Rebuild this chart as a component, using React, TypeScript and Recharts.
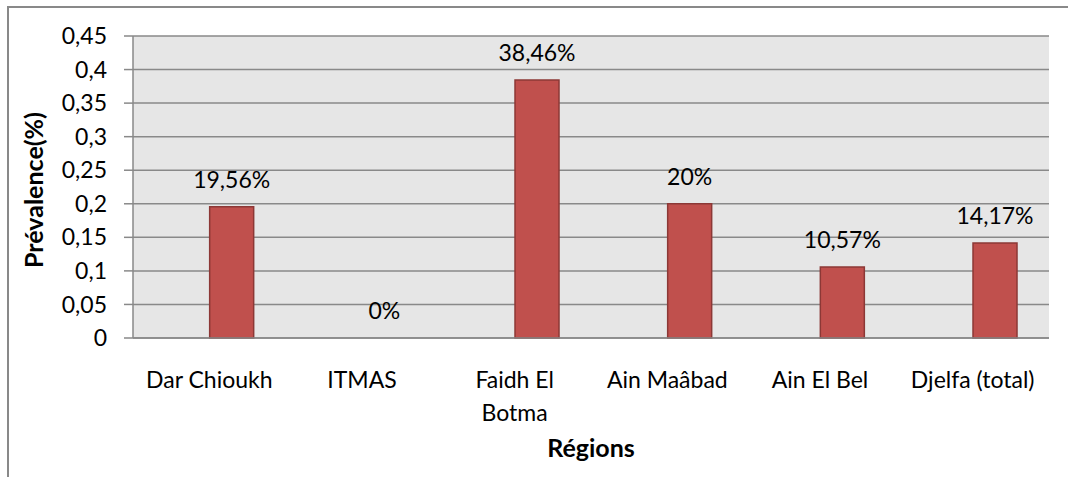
import { Bar, BarChart, CartesianGrid, LabelList, Rectangle, XAxis, YAxis } from 'recharts';

const categories = ['Dar Chioukh', 'ITMAS', 'Faidh El Botma', 'Ain Maâbad', 'Ain El Bel', 'Djelfa (total)'];
const tickLabels = ['Dar Chioukh', 'ITMAS', 'Faidh El\nBotma', 'Ain Maâbad', 'Ain El Bel', 'Djelfa (total)'];
// first series is blank in the source workbook, it only holds a slot
const blankSeries = [null, null, null, null, null, null];
const prevalence = [0.1956, 0, 0.3846, 0.2, 0.1057, 0.1417];
const yTicks = [0, 0.05, 0.1, 0.15, 0.2, 0.25, 0.3, 0.35, 0.4, 0.45];

const data = categories.map((name, i) => ({
  name,
  label: tickLabels[i],
  blank: blankSeries[i],
  value: prevalence[i],
}));

const FONT = 23;
const TITLE_FONT = 25;
const GRAY = '#898989';

const comma = (v: number) => String(v).replace('.', ',');
const pct = (v: number) => comma(Number((v * 100).toFixed(2))) + '%';

const CategoryTick = (props: any) => {
  const { x, y, index } = props;
  const lines = tickLabels[index].split('\n');
  return (
    <text x={x} y={y} textAnchor="middle" fill="#000" fontSize={FONT}>
      {lines.map((line, i) => (
        <tspan key={i} x={x} dy={i === 0 ? '0.7em' : 33}>
          {line}
        </tspan>
      ))}
    </text>
  );
};

// zero bars get a hair of height so their label is still placed, but draw nothing
const BarShape = (props: any) => (props.height < 0.5 ? <g /> : <Rectangle {...props} />);

const App = () => {
  return (
    <div
      style={{
        position: 'absolute',
        left: 0,
        top: 0,
        width: 1068,
        height: 477,
        overflow: 'hidden',
        background: '#fff',
        fontFamily: 'Lato, sans-serif',
      }}
    >
      <div
        style={{
          position: 'absolute',
          left: 7,
          top: 6,
          width: 1200,
          height: 600,
          borderLeft: `2px solid ${GRAY}`,
          borderTop: `2px solid ${GRAY}`,
        }}
      />
      <div style={{ position: 'absolute', left: 0, top: 0 }}>
        <BarChart
          width={1068}
          height={477}
          data={data}
          margin={{ top: 36, right: 19, bottom: 0, left: 20 }}
          barCategoryGap="21.4%"
          barGap={0}
        >
          <CartesianGrid vertical={false} fill="#e6e6e6" stroke={GRAY} strokeWidth={1.5} />
          <XAxis
            dataKey="name"
            height={139}
            interval={0}
            tickLine={false}
            tickSize={0}
            tickMargin={34}
            axisLine={{ stroke: GRAY, strokeWidth: 1.5 }}
            tick={<CategoryTick />}
            label={{
              position: 'insideBottom',
              content: ({ viewBox }: any) => (
                <text
                  x={viewBox.x + viewBox.width / 2}
                  y={457}
                  textAnchor="middle"
                  fontSize={TITLE_FONT}
                  fontWeight="bold"
                  fill="#000"
                >
                  Régions
                </text>
              ),
            }}
          />
          <YAxis
            width={113}
            domain={[0, 0.45]}
            ticks={yTicks}
            interval={0}
            tickFormatter={comma}
            tickSize={9}
            tickMargin={17}
            tickLine={{ stroke: GRAY, strokeWidth: 1.5 }}
            axisLine={{ stroke: GRAY, strokeWidth: 1.5 }}
            tick={{ fill: '#000', fontSize: FONT }}
            label={{
              position: 'center',
              content: ({ viewBox }: any) => {
                const cx = 33;
                const cy = viewBox.y + viewBox.height / 2 + 3;
                return (
                  <text
                    x={cx}
                    y={cy}
                    transform={`rotate(-90 ${cx} ${cy})`}
                    textAnchor="middle"
                    dominantBaseline="central"
                    fontSize={TITLE_FONT}
                    fontWeight="bold"
                    fill="#000"
                  >
                    Prévalence(%)
                  </text>
                );
              },
            }}
          />
          <Bar dataKey="blank" fill="#4f81bd" isAnimationActive={false} />
          <Bar
            dataKey="value"
            fill="#c0504d"
            stroke="#8c3836"
            strokeWidth={1.5}
            minPointSize={0.01}
            shape={<BarShape />}
            isAnimationActive={false}
          >
            <LabelList
              dataKey="value"
              position="top"
              offset={19}
              formatter={(v: any) => pct(Number(v))}
              fill="#000"
              fontSize={FONT}
            />
          </Bar>
        </BarChart>
      </div>
    </div>
  );
};

export default App;
